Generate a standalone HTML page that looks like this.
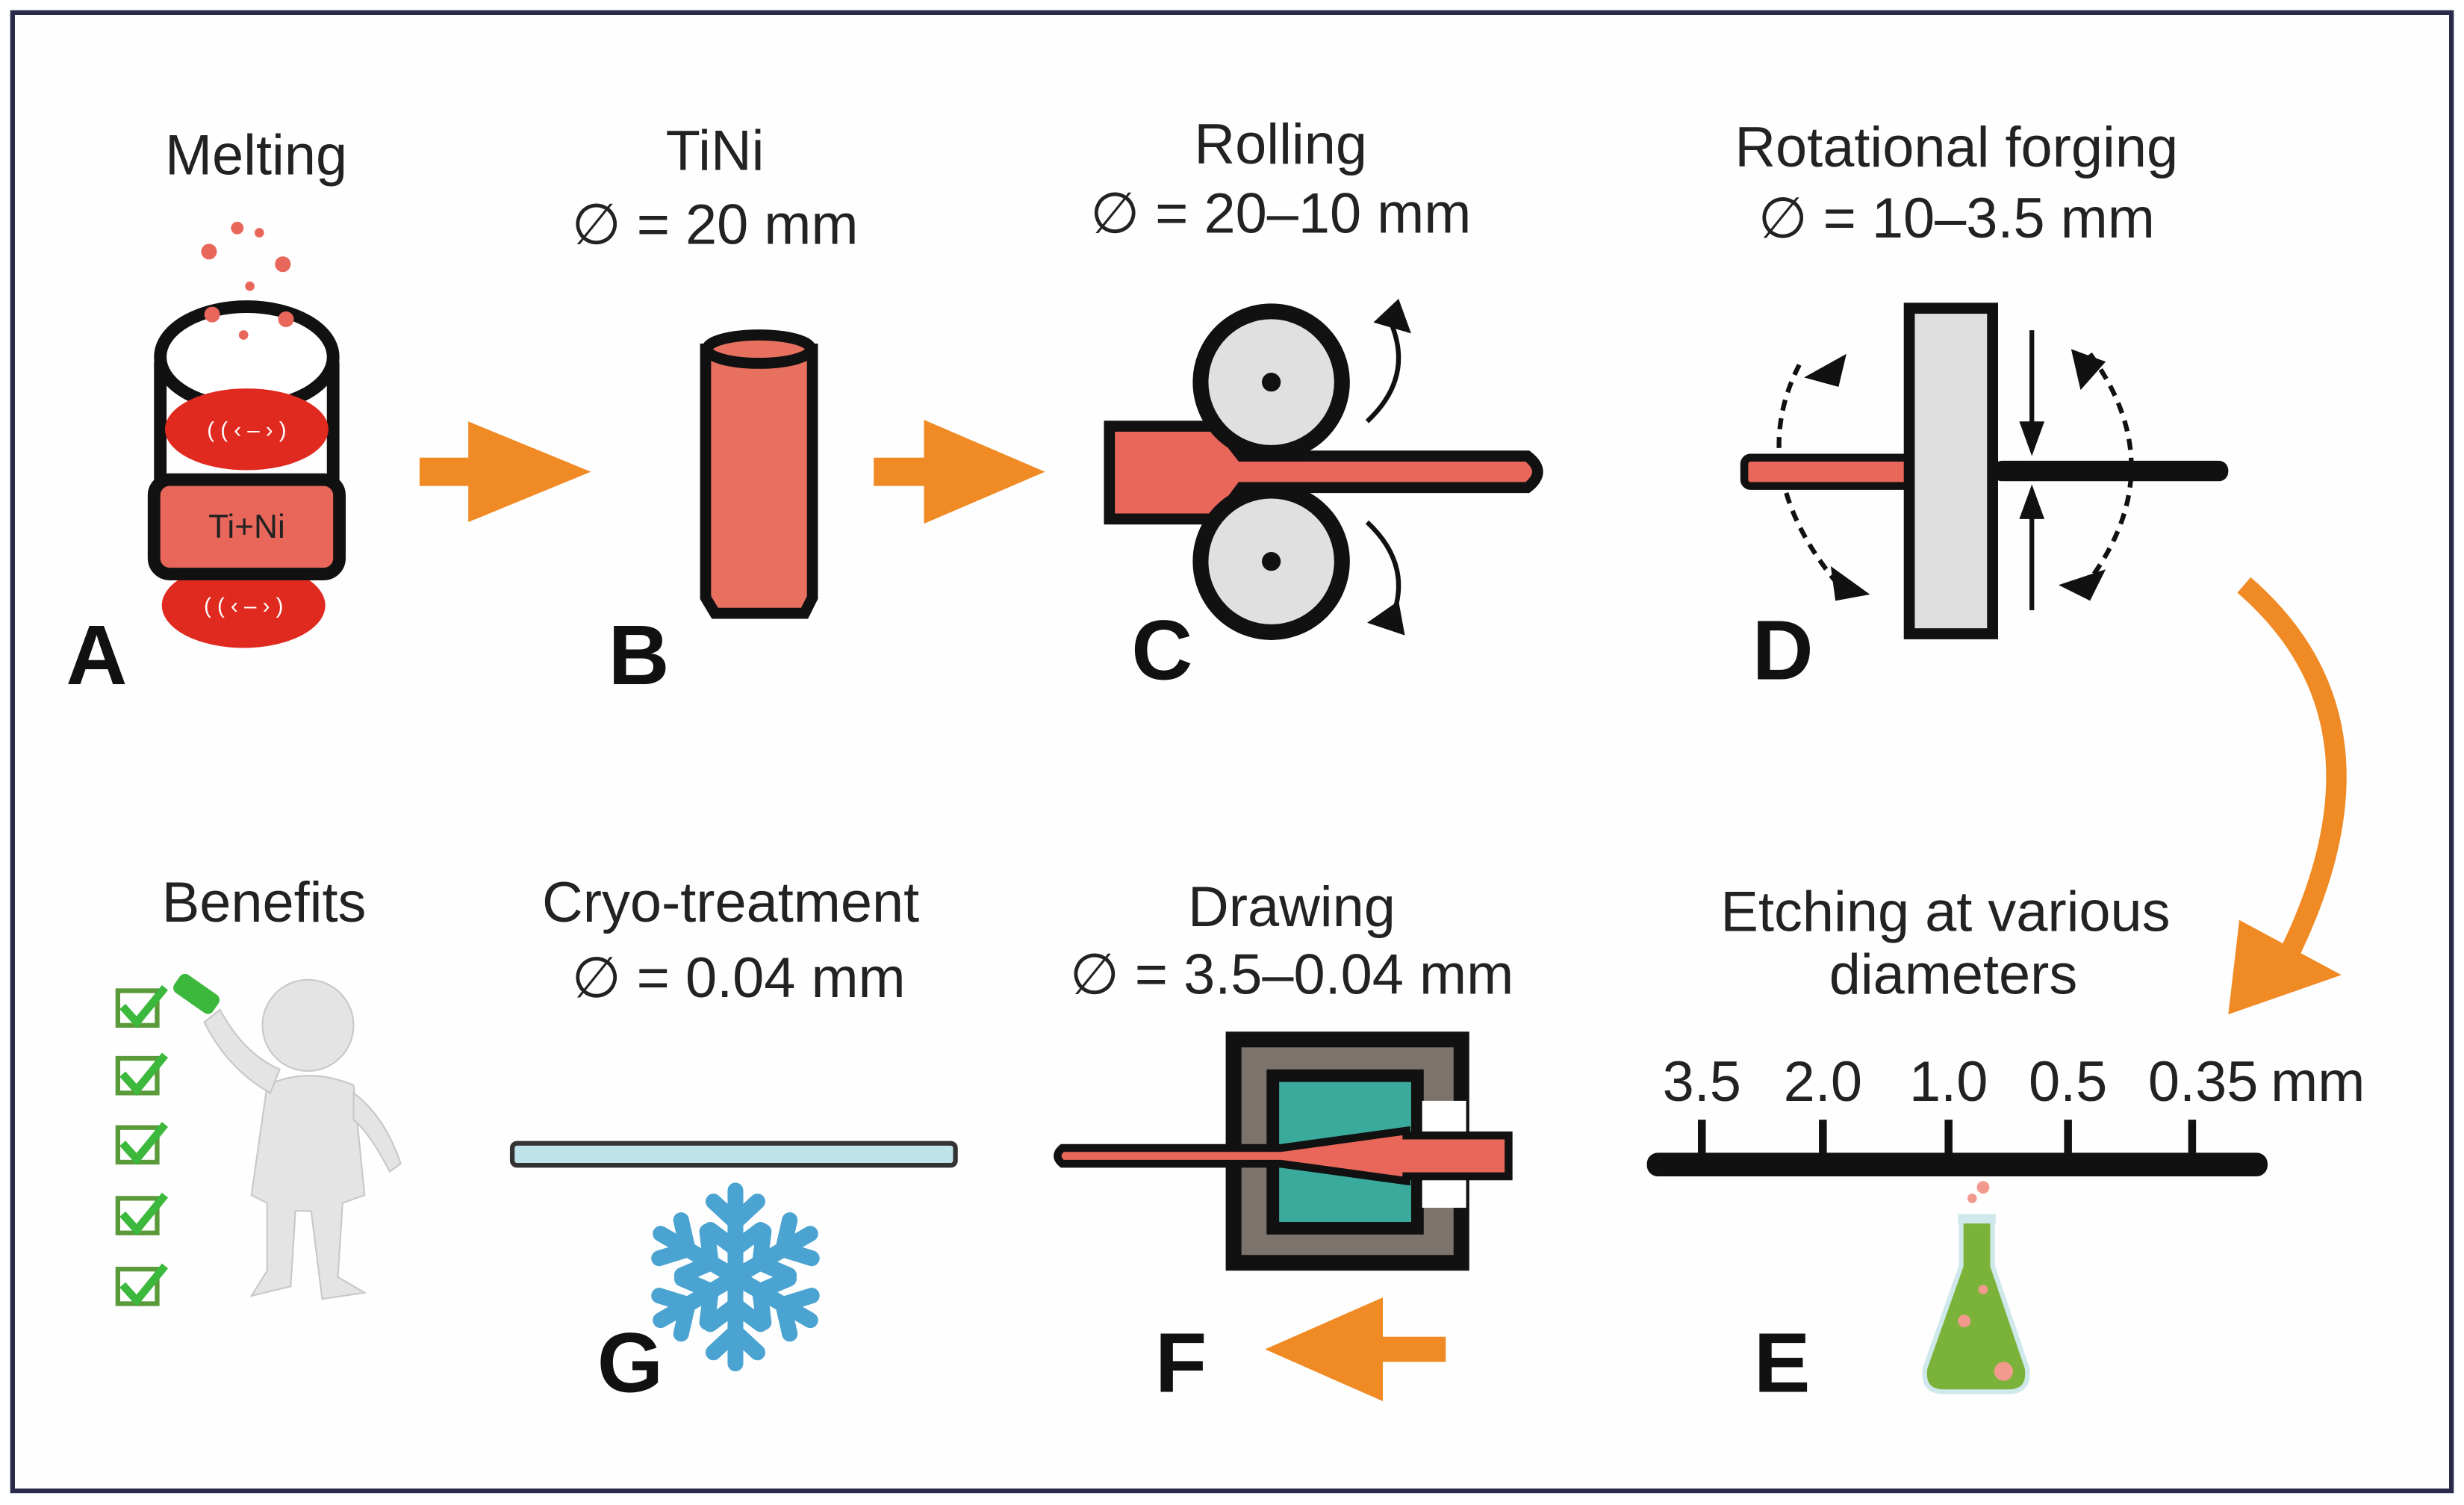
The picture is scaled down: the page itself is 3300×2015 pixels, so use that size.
<!DOCTYPE html>
<html><head><meta charset="utf-8"><style>
html,body{margin:0;padding:0;background:#fff}
svg{display:block}
text{font-family:"Liberation Sans",sans-serif;fill:#222}
.t{font-size:36px;text-anchor:middle}
.L{font-size:54px;font-weight:bold;fill:#111}
</style></head><body>
<svg width="3300" height="2015" viewBox="0 0 1568 957" preserveAspectRatio="none" xmlns="http://www.w3.org/2000/svg">
<rect x="0" y="0" width="1568" height="957" fill="#fff"/>
<rect x="8" y="8" width="1552" height="940" fill="#fefefe" stroke="#2a2a4a" stroke-width="3"/>

<!-- titles -->
<text class="t" x="163" y="111">Melting</text>
<text class="t" x="455" y="108">TiNi</text>
<text class="t" x="455" y="155">∅ = 20 mm</text>
<text class="t" x="815" y="104">Rolling</text>
<text class="t" x="815" y="148">∅ = 20–10 mm</text>
<text class="t" x="1245" y="106">Rotational forging</text>
<text class="t" x="1245" y="151">∅ = 10–3.5 mm</text>
<text class="t" x="168" y="586">Benefits</text>
<text class="t" x="465" y="586">Cryo-treatment</text>
<text class="t" x="470" y="634">∅ = 0.04 mm</text>
<text class="t" x="822" y="589">Drawing</text>
<text class="t" x="822" y="632">∅ = 3.5–0.04 mm</text>
<text class="t" x="1238" y="592">Etching at various</text>
<text class="t" x="1243" y="632">diameters</text>
<text class="t" x="1083" y="700">3.5</text>
<text class="t" x="1160" y="700">2.0</text>
<text class="t" x="1240" y="700">1.0</text>
<text class="t" x="1316" y="700">0.5</text>
<text class="t" x="1402" y="700">0.35</text>
<text class="t" x="1475" y="700">mm</text>

<text class="L" x="42" y="435">A</text>
<text class="L" x="387" y="435">B</text>
<text class="L" x="720" y="432">C</text>
<text class="L" x="1115" y="432">D</text>
<text class="L" x="1116" y="885">E</text>
<text class="L" x="735" y="885">F</text>
<text class="L" x="380" y="885">G</text>

<!-- A -->
<g fill="#e8675a">
<circle cx="151" cy="145" r="4"/><circle cx="133" cy="160" r="5"/><circle cx="165" cy="148" r="3"/><circle cx="180" cy="168" r="5"/>
</g>
<path d="M102 230 V340 M212 230 V340" stroke="#111" stroke-width="8"/>
<ellipse cx="157" cy="227" rx="55" ry="32" fill="#fff" stroke="#111" stroke-width="8"/>
<g fill="#e8675a"><circle cx="135" cy="200" r="5"/><circle cx="182" cy="203" r="5"/><circle cx="155" cy="213" r="3"/><circle cx="159" cy="182" r="3"/></g>
<ellipse cx="157" cy="273" rx="52" ry="26" fill="#e02a20"/>
<ellipse cx="155" cy="385" rx="52" ry="27" fill="#e02a20"/>
<rect x="98" y="305" width="118" height="60" rx="10" fill="#e8675a" stroke="#111" stroke-width="8"/>
<text x="157" y="342" style="font-size:21px;text-anchor:middle">Ti+Ni</text>
<text x="157" y="278" style="font-size:14px;text-anchor:middle;fill:#fff">( ( ‹  –  › )</text>
<text x="155" y="390" style="font-size:14px;text-anchor:middle;fill:#fff">( ( ‹  –  › )</text>

<!-- arrows -->
<g fill="#f08a24">
<rect x="267" y="291" width="35" height="18"/><polygon points="298,268 376,300 298,332"/>
<rect x="556" y="291" width="36" height="18"/><polygon points="588,267 665,300 588,333"/>
<rect x="860" y="850" width="60" height="16"/><polygon points="880,825 805,858 880,891"/>
</g>

<!-- B -->
<path d="M449 222 V380 L455 390 H512 L517 380 V222 Z" fill="#e8705f" stroke="#111" stroke-width="7"/>
<ellipse cx="483" cy="222" rx="33" ry="9" fill="#e8705f" stroke="#111" stroke-width="7"/>

<!-- C -->
<path d="M706 271 H775 L790 290 H972 Q985 300 972 310 H790 L775 330 H706 Z" fill="#e8675a" stroke="#111" stroke-width="7"/>
<circle cx="809" cy="243" r="45" fill="#e0e0e0" stroke="#111" stroke-width="10"/>
<circle cx="809" cy="357" r="45" fill="#e0e0e0" stroke="#111" stroke-width="10"/>
<circle cx="809" cy="243" r="6" fill="#111"/><circle cx="809" cy="357" r="6" fill="#111"/>
<path d="M870 268 Q900 240 885 205" fill="none" stroke="#111" stroke-width="3"/>
<polygon points="874,205 890,190 898,212" fill="#111"/>
<path d="M870 332 Q900 360 885 395" fill="none" stroke="#111" stroke-width="3"/>
<polygon points="870,396 894,404 890,382" fill="#111"/>

<!-- D -->
<path d="M1145 232 Q1110 300 1170 372" fill="none" stroke="#111" stroke-width="3" stroke-dasharray="7,5"/>
<path d="M1330 225 Q1385 300 1325 375" fill="none" stroke="#111" stroke-width="3" stroke-dasharray="7,5"/>
<polygon points="1175,225 1148,240 1170,246" fill="#111"/>
<polygon points="1165,360 1190,378 1168,382" fill="#111"/>
<polygon points="1318,222 1340,230 1324,248" fill="#111"/>
<polygon points="1310,372 1340,362 1330,382" fill="#111"/>
<rect x="1110" y="291" width="110" height="18" rx="4" fill="#e8675a" stroke="#111" stroke-width="5"/>
<rect x="1215" y="196" width="53" height="207" fill="#dedede" stroke="#111" stroke-width="7"/>
<rect x="1268" y="293" width="150" height="13" rx="6" fill="#111"/>
<path d="M1293 210 V282 M1293 318 V388" stroke="#111" stroke-width="3"/>
<polygon points="1285,268 1301,268 1293,290" fill="#111"/><polygon points="1285,330 1301,330 1293,308" fill="#111"/>

<!-- big curved arrow -->
<path d="M1428 372 Q1530 460 1455 610" fill="none" stroke="#f08a24" stroke-width="13"/>
<polygon points="1418,645 1425,585 1490,620" fill="#f08a24"/>

<!-- E -->
<rect x="1048" y="733" width="395" height="15" rx="7" fill="#111"/>
<g stroke="#111" stroke-width="5"><path d="M1083 712V735M1160 712V735M1240 712V735M1316 712V735M1395 712V735"/></g>
<path d="M1248 775 H1268 V805 L1290 870 Q1292 885 1278 885 H1237 Q1223 885 1225 870 L1248 805 Z" fill="#7bb33a" stroke="#cfe8ec" stroke-width="3"/>
<rect x="1246" y="772" width="24" height="6" fill="#cfe8ec"/>
<g fill="#f29a8e"><circle cx="1262" cy="755" r="4"/><circle cx="1255" cy="762" r="3"/><circle cx="1250" cy="840" r="4"/><circle cx="1275" cy="872" r="6"/><circle cx="1262" cy="820" r="3"/></g>

<!-- F -->
<rect x="780" y="656" width="155" height="152" fill="#111"/>
<rect x="790" y="666" width="135" height="132" fill="#7c736c"/>
<rect x="806" y="680" width="100" height="105" fill="#111"/>
<rect x="814" y="688" width="84" height="89" fill="#3aaa9c"/>
<rect x="905" y="700" width="28" height="20" fill="#fff"/>
<rect x="905" y="748" width="28" height="20" fill="#fff"/>
<path d="M676 730 H815 L895 719 V722 H960 V748 H895 V751 L815 740 H676 Q670 735 676 730 Z" fill="#e8675a" stroke="#111" stroke-width="5"/>

<!-- G -->
<rect x="326" y="727" width="282" height="14" rx="3" fill="#bfe3ea" stroke="#333" stroke-width="3"/>
<g transform="translate(468,812)" stroke="#4aa3d0" stroke-width="10" stroke-linecap="round">
<g id="arm"><path d="M0 0V-55M0 -35L-14 -48M0 -35L14 -48M0 -18L-16 -30M0 -18L16 -30"/></g>
<use href="#arm" transform="rotate(60)"/><use href="#arm" transform="rotate(120)"/><use href="#arm" transform="rotate(180)"/><use href="#arm" transform="rotate(240)"/><use href="#arm" transform="rotate(300)"/>
</g>

<!-- Benefits -->
<g fill="none" stroke="#5a9a3a" stroke-width="3">
<rect x="75" y="630" width="25" height="22"/><rect x="75" y="673" width="25" height="22"/><rect x="75" y="717" width="25" height="22"/><rect x="75" y="762" width="25" height="22"/><rect x="75" y="807" width="25" height="22"/>
</g>
<g fill="none" stroke="#3cb83c" stroke-width="5"><path d="M78 640 L87 650 L105 628M78 683 L87 693 L105 671M78 727 L87 737 L105 715M78 772 L87 782 L105 760M78 817 L87 827 L105 805"/></g>
<g fill="#e4e4e4" stroke="#c8c8c8" stroke-width="1">
<circle cx="196" cy="652" r="29"/>
<path d="M170 690 Q196 678 225 690 L232 760 L218 765 L215 812 L232 822 L205 826 L198 770 L188 770 L185 818 L160 824 L170 808 L170 765 L160 760 Z"/>
<path d="M225 695 Q245 710 255 740 L248 745 Q235 720 225 712Z"/>
<path d="M172 695 Q145 680 130 650 L140 642 Q155 670 178 680Z"/>
</g>
<rect x="110" y="625" width="30" height="14" rx="4" transform="rotate(35 125 632)" fill="#3cb83c"/>
</svg>
</body></html>
